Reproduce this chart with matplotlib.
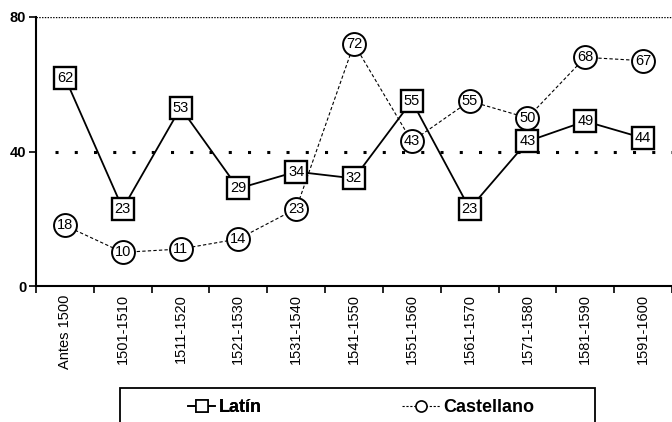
import matplotlib.pyplot as plt
import matplotlib.patches as patches
from matplotlib.lines import Line2D

plt.rcParams['font.family'] = ['Liberation Sans', 'DejaVu Sans']

# data
periods = ["Antes 1500", "1501-1510", "1511-1520", "1521-1530", "1531-1540",
           "1541-1550", "1551-1560", "1561-1570", "1571-1580", "1581-1590",
           "1591-1600"]
latin = [62, 23, 53, 29, 34, 32, 55, 23, 43, 49, 44]
castellano = [18, 10, 11, 14, 23, 72, 43, 55, 50, 68, 67]

fig = plt.figure(figsize=(6.72, 4.22), dpi=100)
ax = fig.add_axes([36 / 672, 1 - 286 / 422, 1 - 36 / 672, (286 - 17) / 422])

x = list(range(len(periods)))

# reference lines
ax.axhline(80, color='black', ls=(0, (1, 1)), lw=1.0, zorder=1)
ax.axhline(40, xmin=0.03, color='black', ls=(0, (1, 5.3)), lw=2.2, zorder=1)

ax.plot(x, castellano, color='black', lw=0.8, ls=(0, (3, 2)), marker='o',
        markersize=16.5, markerfacecolor='white', markeredgecolor='black',
        markeredgewidth=1.4, zorder=3)
ax.plot(x, latin, color='black', lw=1.3, ls='-', marker='s',
        markersize=16, markerfacecolor='white', markeredgecolor='black',
        markeredgewidth=1.7, zorder=4)

for xi, v in zip(x, castellano):
    ax.text(xi, v, str(v), ha='center', va='center', fontsize=10.5, zorder=5)
for xi, v in zip(x, latin):
    ax.text(xi, v, str(v), ha='center', va='center', fontsize=10.5, zorder=6)

ax.set_xlim(-0.5, 10.5)
ax.set_ylim(0, 80)
ax.set_yticks([0, 40, 80])
ax.set_yticklabels(['0', '40', '80'], fontsize=10.5, fontweight='bold')
ax.set_xticks(x)
ax.set_xticklabels(periods, rotation=90, fontsize=10.5)
ax.tick_params(axis='x', length=0, pad=6)
ax.set_xticks([i - 0.5 for i in range(len(periods) + 1)], minor=True)
ax.tick_params(axis='x', which='minor', length=5, width=1.2, direction='out')
ax.tick_params(axis='y', length=5, width=1.2, direction='out', pad=2)

ax.spines['top'].set_visible(False)
ax.spines['right'].set_visible(False)
ax.spines['left'].set_linewidth(1.5)
ax.spines['bottom'].set_linewidth(1.5)

# legend box, cut off at the bottom edge
rect = patches.Rectangle((120 / 672, -0.05), (595 - 120) / 672, 0.05 + 34 / 422,
                         transform=fig.transFigure, fill=False,
                         edgecolor='black', lw=1.3, clip_on=False)
fig.patches.append(rect)

h_latin = Line2D([], [], color='black', lw=1.2, ls='-', marker='s', markersize=8,
                 markerfacecolor='white', markeredgecolor='black', markeredgewidth=1.2)
h_cast = Line2D([], [], color='black', lw=0.8, ls=(0, (2, 1.5)), marker='o', markersize=8,
                markerfacecolor='white', markeredgecolor='black', markeredgewidth=1.2)
leg_kw = dict(loc='center left', frameon=False, borderpad=0, borderaxespad=0,
              handletextpad=0.2, prop={'size': 13, 'weight': 'bold'})
leg1 = fig.legend([h_latin], ['Latín'], bbox_to_anchor=(188 / 672, 1 - 408 / 422),
                  handlelength=1.5, **leg_kw)
fig.add_artist(leg1)
fig.legend([h_cast], ['Castellano'], bbox_to_anchor=(402 / 672, 1 - 408 / 422),
           handlelength=2.1, **leg_kw)

fig.savefig('out.png', dpi=100)
